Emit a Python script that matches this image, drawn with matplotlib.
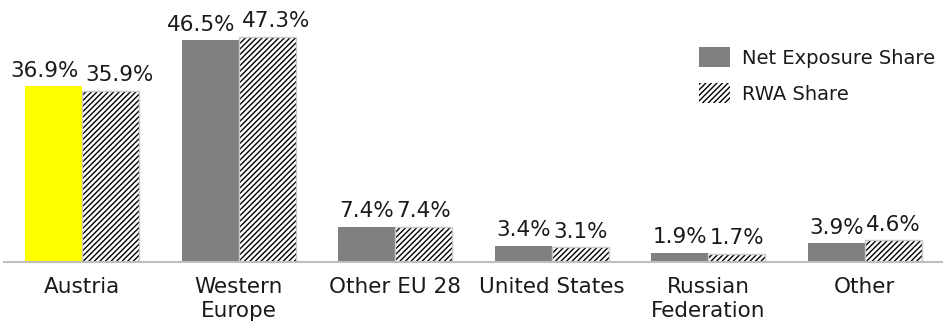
import numpy as np
import matplotlib
matplotlib.use("Agg")
import matplotlib.pyplot as plt
from matplotlib.patches import Patch

categories = ["Austria", "Western\nEurope", "Other EU 28", "United States",
              "Russian\nFederation", "Other"]
net_exposure = [36.9, 46.5, 7.4, 3.4, 1.9, 3.9]
rwa_share = [35.9, 47.3, 7.4, 3.1, 1.7, 4.6]
net_colors = ["#FFFF00", "#808080", "#808080", "#808080", "#808080", "#808080"]

plt.rcParams["font.family"] = ["DejaVu Sans"]
plt.rcParams["hatch.linewidth"] = 1.0

W, H = 943, 327
fig = plt.figure(figsize=(W / 100, H / 100), dpi=100)
ax = fig.add_axes([4 / W, 65 / H, 1 - 4 / W, 1 - 65 / H])

x = np.arange(len(categories))
bw = 0.364

ax.bar(x - bw / 2, net_exposure, bw, color=net_colors, edgecolor="none")
rwa_bars = ax.bar(x + bw / 2, rwa_share, bw, color="white", hatch="//////",
                  edgecolor="black", linewidth=0)
# light grey outline around hatched bars
for b in rwa_bars:
    ax.add_patch(plt.Rectangle(b.get_xy(), b.get_width(), b.get_height(),
                               fill=False, edgecolor="#c8c8c8", linewidth=1))

# value labels; wide labels get pushed apart like the original
for i in range(len(categories)):
    dx = 6.5 if net_exposure[i] >= 10 else 0
    ax.annotate(f"{net_exposure[i]:.1f}%", (x[i] - bw / 2, net_exposure[i]),
                xytext=(-dx, 4), textcoords="offset points",
                ha="center", va="bottom", fontsize=15.5, color="#1a1a1a")
    dx = 6.5 if rwa_share[i] >= 10 else 0
    ax.annotate(f"{rwa_share[i]:.1f}%", (x[i] + bw / 2, rwa_share[i]),
                xytext=(dx, 4), textcoords="offset points",
                ha="center", va="bottom", fontsize=15.5, color="#1a1a1a")

ax.set_xlim(-0.5, len(categories) - 0.5)
ax.set_ylim(0, 55)
ax.set_xticks(x)
ax.set_xticklabels(categories, fontsize=15.5, color="#1a1a1a", linespacing=1.25)
ax.tick_params(axis="x", length=0, pad=11)
ax.set_yticks([])
for side in ["top", "right", "left"]:
    ax.spines[side].set_visible(False)
ax.spines["bottom"].set_color("#bfbfbf")
ax.spines["bottom"].set_linewidth(1.5)

handles = [Patch(facecolor="#808080", edgecolor="none"),
           Patch(facecolor="white", edgecolor="black", linewidth=0,
                 hatch="//////")]
leg = fig.legend(handles=handles,
                 labels=["Net Exposure Share", "RWA Share"],
                 loc="upper left", bbox_to_anchor=(699 / W, 1 - 47 / H),
                 frameon=False, fontsize=14, handlelength=1.6,
                 handleheight=1.2, handletextpad=0.6, labelspacing=0.8,
                 borderpad=0, borderaxespad=0)
for t in leg.get_texts():
    t.set_color("#1a1a1a")

fig.savefig("out.png", dpi=100)
